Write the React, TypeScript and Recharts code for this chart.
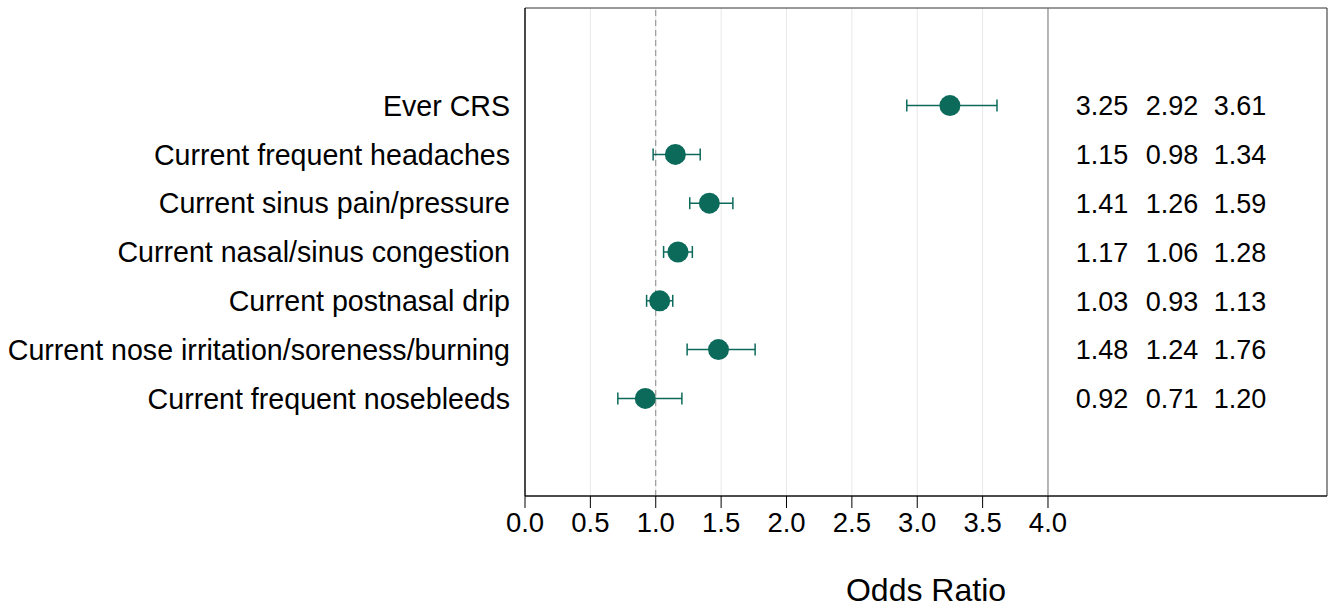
import React from "react";
import {
  ScatterChart, Scatter, XAxis, YAxis, CartesianGrid, ErrorBar, ReferenceLine, ReferenceArea,
} from "recharts";

const outcomes = [
  "Ever CRS",
  "Current frequent headaches",
  "Current sinus pain/pressure",
  "Current nasal/sinus congestion",
  "Current postnasal drip",
  "Current nose irritation/soreness/burning",
  "Current frequent nosebleeds",
];
const oddsRatio = [3.25, 1.15, 1.41, 1.17, 1.03, 1.48, 0.92];
const lowerCI = [2.92, 0.98, 1.26, 1.06, 0.93, 1.24, 0.71];
const upperCI = [3.61, 1.34, 1.59, 1.28, 1.13, 1.76, 1.2];
const xTicks = [0, 0.5, 1, 1.5, 2, 2.5, 3, 3.5, 4];

const W = 1330;
const H = 607;
const PLOT_LEFT = 525;
const X_MAX = 6.134;
const TEAL = "#0c6a5b";
const FONT = "'Liberation Sans', Arial, sans-serif";
const tableX = [1102, 1172, 1240];

const data = outcomes.map((name, i) => ({
  name,
  row: i + 1,
  or: oddsRatio[i],
  lo: lowerCI[i],
  hi: upperCI[i],
  err: [oddsRatio[i] - lowerCI[i], upperCI[i] - oddsRatio[i]],
}));

function PointShape(props: any) {
  const { cx, cy, payload } = props;
  const vals = [payload.or, payload.lo, payload.hi];
  return (
    <g>
      <circle cx={cx} cy={cy} r={10.5} fill={TEAL} />
      {vals.map((v, k) => (
        <text key={k} x={tableX[k]} y={cy} dy="0.36em" textAnchor="middle"
          fontSize={27} fontFamily={FONT} fill="#000">
          {v.toFixed(2)}
        </text>
      ))}
    </g>
  );
}

export default function App() {
  return (
    <div style={{ position: "absolute", left: 0, top: 0, width: W, height: H, background: "#fff" }}>
      <ScatterChart width={W} height={H} margin={{ top: 8, right: 3, bottom: 0, left: 0 }}>
        <CartesianGrid horizontal={false} stroke="#e8e8e8" />
        <XAxis
          type="number" dataKey="or" domain={[0, X_MAX]} ticks={xTicks} allowDataOverflow
          tickFormatter={(v: number) => v.toFixed(1)}
          height={111} tickSize={12} tickMargin={4}
          stroke="#000" tick={{ fill: "#000", fontSize: 27.5, fontFamily: FONT }}
          label={{ value: "Odds Ratio", position: "insideBottom", offset: 6, fill: "#000", fontSize: 32, fontFamily: FONT }}
        />
        <YAxis
          type="number" dataKey="row" domain={[-1, 9]} reversed ticks={[1, 2, 3, 4, 5, 6, 7]}
          tickFormatter={(v: number) => outcomes[v - 1] ?? ""}
          width={PLOT_LEFT} tickSize={0} tickMargin={15} tickLine={false}
          stroke="#000" tick={{ fill: "#000", fontSize: 28.6, fontFamily: FONT }}
        />
        <ReferenceArea x1={0} x2={X_MAX} y1={-1} y2={9} fill="none" stroke="#333" strokeWidth={1} ifOverflow="visible" />
        <ReferenceLine x={1} stroke="#888" strokeDasharray="6 4" />
        <ReferenceLine x={4} stroke="#777" />
        <Scatter data={data} shape={<PointShape />} fill={TEAL} isAnimationActive={false}>
          <ErrorBar dataKey="err" direction="x" width={6} stroke={TEAL} strokeWidth={1.5} />
        </Scatter>
      </ScatterChart>
    </div>
  );
}
